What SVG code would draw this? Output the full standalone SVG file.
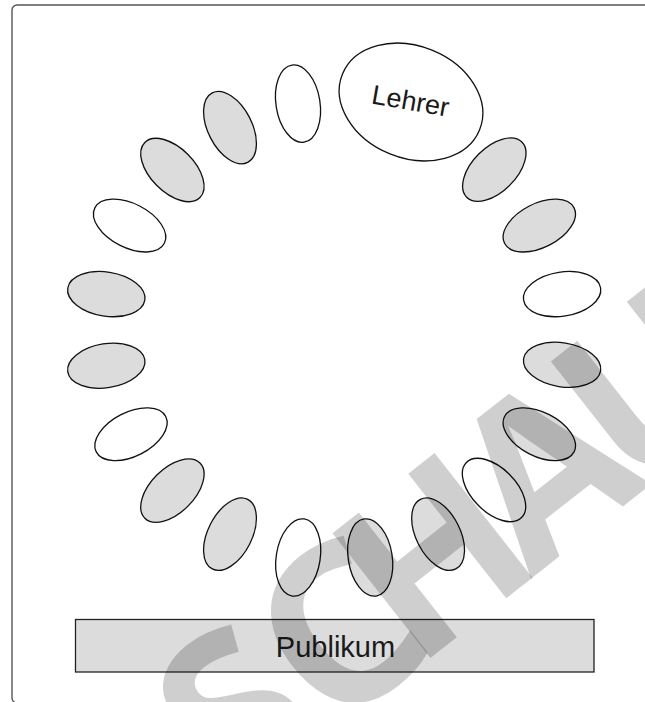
<svg xmlns="http://www.w3.org/2000/svg" width="645" height="702" viewBox="0 0 645 702">
  <style>
    .seat { stroke: #111; stroke-width: 1.3; }
    .free { fill: #ffffff; }
    .taken { fill: #dcdcdd; }
    .label { font-family: "Liberation Sans", Arial, sans-serif; fill: #1a1a1a; }
    .mark { font-family: "Open Sans", "Liberation Sans", sans-serif; font-weight: 700; font-size: 222px; fill: #000; fill-opacity: 0.19; }
  </style>
  <defs>
    <ellipse id="chair" rx="39" ry="22"/>
  </defs>

  <rect width="645" height="702" fill="#ffffff"/>

  <!-- outer frame (continues past the right and bottom edges) -->
  <rect x="12" y="5" width="700" height="698" rx="5" fill="none" stroke="#555" stroke-width="1.4"/>

  <!-- teacher -->
  <g id="lehrer">
    <ellipse cx="411" cy="102" rx="74" ry="56" transform="rotate(22 411 102)" fill="#fff" stroke="#111" stroke-width="1.3"/>
    <text class="label" x="409" y="110" font-size="27" text-anchor="middle" transform="rotate(10 409 110)">Lehrer</text>
  </g>

  <!-- chairs arranged radially around the circle -->
  <g id="stuhlkreis">
    <use href="#chair" class="seat free"  transform="translate(298 103.6) rotate(261)"/>
    <use href="#chair" class="seat taken" transform="translate(230 127.6) rotate(243)"/>
    <use href="#chair" class="seat taken" transform="translate(172.4 170) rotate(225)"/>
    <use href="#chair" class="seat free"  transform="translate(129.6 225.6) rotate(207)"/>
    <use href="#chair" class="seat taken" transform="translate(106.3 294.1) rotate(189)"/>
    <use href="#chair" class="seat taken" transform="translate(106.3 365.7) rotate(171)"/>
    <use href="#chair" class="seat free"  transform="translate(131 434.2) rotate(153)"/>
    <use href="#chair" class="seat taken" transform="translate(172.4 490.6) rotate(135)"/>
    <use href="#chair" class="seat taken" transform="translate(230 534.2) rotate(117)"/>
    <use href="#chair" class="seat free"  transform="translate(298.2 557.5) rotate(99)"/>
    <use href="#chair" class="seat taken" transform="translate(370.2 557.5) rotate(81)"/>
    <use href="#chair" class="seat taken" transform="translate(438.1 534.2) rotate(63)"/>
    <use href="#chair" class="seat free"  transform="translate(494 490) rotate(45)"/>
    <use href="#chair" class="seat taken" transform="translate(539.3 434.2) rotate(27)"/>
    <use href="#chair" class="seat taken" transform="translate(562.1 364.8) rotate(9)"/>
    <use href="#chair" class="seat free"  transform="translate(562.1 294.1) rotate(-9)"/>
    <use href="#chair" class="seat taken" transform="translate(539.3 225.6) rotate(-27)"/>
    <use href="#chair" class="seat taken" transform="translate(494.3 169.6) rotate(-45)"/>
  </g>

  <!-- audience -->
  <g id="publikum">
    <rect x="75.5" y="619.5" width="518.5" height="52.5" fill="#dcdcdd" stroke="#222" stroke-width="1.3"/>
    <text class="label" x="335.5" y="656.5" font-size="29" text-anchor="middle">Publikum</text>
  </g>

  <!-- preview stamp, split at the H so it can be placed precisely -->
  <g transform="translate(414.7 670.2) rotate(-38.2)">
    <text class="mark" x="35" y="0" text-anchor="end">VORSC</text>
    <text class="mark" x="0" y="0" letter-spacing="-22">HAU</text>
  </g>
</svg>
